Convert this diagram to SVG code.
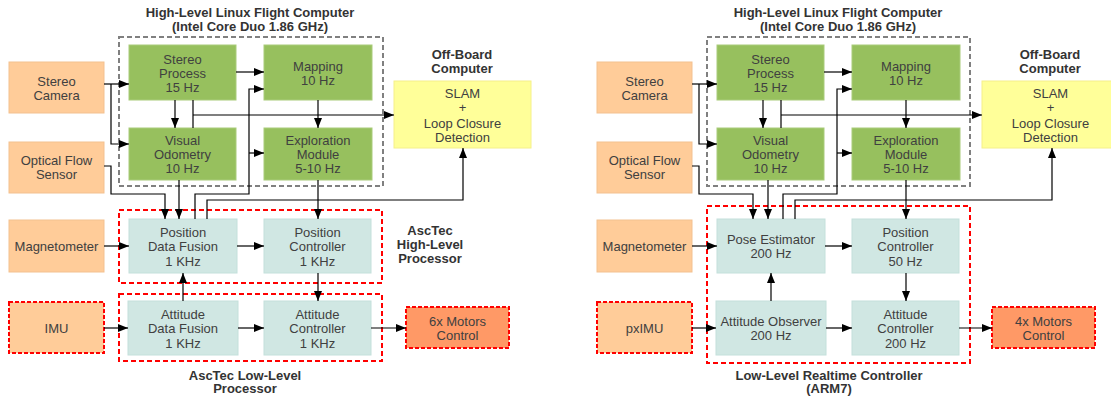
<svg xmlns="http://www.w3.org/2000/svg" width="1111" height="398" viewBox="0 0 1111 398">
<defs>
<style>
.t{font-family:"Liberation Sans",Arial,sans-serif;font-size:13px;fill:#404040;text-anchor:middle}
.h{font-family:"Liberation Sans",Arial,sans-serif;font-size:13px;font-weight:bold;fill:#333;text-anchor:middle}
.or{fill:#FFCC99;stroke:#f3c190;stroke-width:1}
.gr{fill:#97C05E;stroke:#a9cc7a;stroke-width:1}
.te{fill:#D0E7E3;stroke:#c4e0db;stroke-width:1}
.ye{fill:#FFFF99;stroke:#f5f08a;stroke-width:1}
.mo{fill:#FF9966;stroke:#FF0000;stroke-width:2;stroke-dasharray:4 2}
.ord{fill:#FFCC99;stroke:#FF0000;stroke-width:2;stroke-dasharray:4 2}
.gd{fill:none;stroke:#808080;stroke-width:2;stroke-dasharray:5 3}
.rd{fill:none;stroke:#FF0000;stroke-width:2;stroke-dasharray:5 3}
.c path{fill:none;stroke:#000;stroke-width:1.2}
.c path.a{marker-end:url(#ah)}
</style>
<marker id="ah" viewBox="0 0 10 10" refX="10" refY="5" markerWidth="10" markerHeight="10" markerUnits="userSpaceOnUse" orient="auto"><path d="M0,1 L10,5 L0,9 z" fill="#000"/></marker>
</defs>
<rect width="1111" height="398" fill="#fff"/>

<!-- group frames -->
<g id="frames">
<rect class="gd" x="119" y="37" width="264" height="149"/>
<rect class="rd" x="119" y="210" width="263" height="73"/>
<rect class="rd" x="119" y="294" width="263" height="67"/>
<rect class="gd" x="707" y="37" width="263" height="149"/>
<rect class="rd" x="707" y="206" width="263" height="157"/>
</g>

<g id="labels">
<text class="h" x="250" y="16.5">High-Level Linux Flight Computer</text>
<text class="h" x="250" y="30.5">(Intel Core Duo 1.86 GHz)</text>
<text class="h" x="462" y="58.5">Off-Board</text>
<text class="h" x="462" y="72.5">Computer</text>
<text class="h" x="430" y="234.5">AscTec</text>
<text class="h" x="430" y="248.5">High-Level</text>
<text class="h" x="430" y="262.5">Processor</text>
<text class="h" x="245" y="379.5">AscTec Low-Level</text>
<text class="h" x="245" y="393">Processor</text>
<text class="h" x="838" y="16.5">High-Level Linux Flight Computer</text>
<text class="h" x="838" y="30.5">(Intel Core Duo 1.86 GHz)</text>
<text class="h" x="1050" y="58.5">Off-Board</text>
<text class="h" x="1050" y="72.5">Computer</text>
<text class="h" x="829" y="379.5">Low-Level Realtime Controller</text>
<text class="h" x="829" y="393">(ARM7)</text>
</g>

<!-- left diagram nodes -->
<g id="L-stereo-camera"><rect class="or" x="9" y="62" width="95" height="51"/><text class="t" x="56.5" y="85.5">Stereo</text><text class="t" x="56.5" y="99.5">Camera</text></g>
<g id="L-optical-flow"><rect class="or" x="9" y="142" width="95" height="51"/><text class="t" x="56.5" y="164.5">Optical Flow</text><text class="t" x="56.5" y="178.5">Sensor</text></g>
<g id="L-stereo-process"><rect class="gr" x="129" y="45" width="107" height="55"/><text class="t" x="182.5" y="63.5">Stereo</text><text class="t" x="182.5" y="77.5">Process</text><text class="t" x="182.5" y="91.5">15 Hz</text></g>
<g id="L-visual-odometry"><rect class="gr" x="129" y="128" width="107" height="52"/><text class="t" x="182.5" y="144.5">Visual</text><text class="t" x="182.5" y="158.5">Odometry</text><text class="t" x="182.5" y="172.5">10 Hz</text></g>
<g id="L-mapping"><rect class="gr" x="264" y="45" width="108" height="55"/><text class="t" x="318" y="70.5">Mapping</text><text class="t" x="318" y="84.5">10 Hz</text></g>
<g id="L-exploration"><rect class="gr" x="264" y="128" width="108" height="52"/><text class="t" x="318" y="144.5">Exploration</text><text class="t" x="318" y="158.5">Module</text><text class="t" x="318" y="172.5">5-10 Hz</text></g>
<g id="L-slam"><rect class="ye" x="394" y="81" width="137" height="67"/><text class="t" x="462.5" y="97.5">SLAM</text><text class="t" x="462.5" y="112">+</text><text class="t" x="462.5" y="127.5">Loop Closure</text><text class="t" x="462.5" y="141.5">Detection</text></g>
<g id="L-magnetometer"><rect class="or" x="9" y="220" width="95" height="52"/><text class="t" x="56.5" y="250.5">Magnetometer</text></g>
<g id="L-position-fusion"><rect class="te" x="129" y="219" width="108" height="54"/><text class="t" x="183" y="236.5">Position</text><text class="t" x="183" y="251">Data Fusion</text><text class="t" x="183" y="265.5">1 KHz</text></g>
<g id="L-position-controller"><rect class="te" x="264" y="219" width="107" height="54"/><text class="t" x="317.5" y="236.5">Position</text><text class="t" x="317.5" y="251">Controller</text><text class="t" x="317.5" y="265.5">1 KHz</text></g>
<g id="L-imu"><rect class="ord" x="9" y="302" width="95" height="51"/><text class="t" x="56.5" y="332.5">IMU</text></g>
<g id="L-attitude-fusion"><rect class="te" x="128" y="301" width="110" height="54"/><text class="t" x="183" y="318.5">Attitude</text><text class="t" x="183" y="333">Data Fusion</text><text class="t" x="183" y="347.5">1 KHz</text></g>
<g id="L-attitude-controller"><rect class="te" x="264" y="301" width="107" height="54"/><text class="t" x="317.5" y="318.5">Attitude</text><text class="t" x="317.5" y="333">Controller</text><text class="t" x="317.5" y="347.5">1 KHz</text></g>
<g id="L-motors"><rect class="mo" x="406" y="307" width="103" height="41"/><text class="t" x="457.5" y="325.5">6x Motors</text><text class="t" x="457.5" y="339.5">Control</text></g>

<!-- right diagram nodes -->
<g id="R-stereo-camera"><rect class="or" x="597" y="62" width="95" height="51"/><text class="t" x="644.5" y="85.5">Stereo</text><text class="t" x="644.5" y="99.5">Camera</text></g>
<g id="R-optical-flow"><rect class="or" x="597" y="142" width="95" height="51"/><text class="t" x="644.5" y="164.5">Optical Flow</text><text class="t" x="644.5" y="178.5">Sensor</text></g>
<g id="R-stereo-process"><rect class="gr" x="717" y="45" width="107" height="55"/><text class="t" x="770.5" y="63.5">Stereo</text><text class="t" x="770.5" y="77.5">Process</text><text class="t" x="770.5" y="91.5">15 Hz</text></g>
<g id="R-visual-odometry"><rect class="gr" x="717" y="128" width="107" height="52"/><text class="t" x="770.5" y="144.5">Visual</text><text class="t" x="770.5" y="158.5">Odometry</text><text class="t" x="770.5" y="172.5">10 Hz</text></g>
<g id="R-mapping"><rect class="gr" x="852" y="45" width="108" height="55"/><text class="t" x="906" y="70.5">Mapping</text><text class="t" x="906" y="84.5">10 Hz</text></g>
<g id="R-exploration"><rect class="gr" x="852" y="128" width="108" height="52"/><text class="t" x="906" y="144.5">Exploration</text><text class="t" x="906" y="158.5">Module</text><text class="t" x="906" y="172.5">5-10 Hz</text></g>
<g id="R-slam"><rect class="ye" x="982" y="81" width="137" height="67"/><text class="t" x="1050.5" y="97.5">SLAM</text><text class="t" x="1050.5" y="112">+</text><text class="t" x="1050.5" y="127.5">Loop Closure</text><text class="t" x="1050.5" y="141.5">Detection</text></g>
<g id="R-magnetometer"><rect class="or" x="597" y="220" width="95" height="52"/><text class="t" x="644.5" y="250.5">Magnetometer</text></g>
<g id="R-pose-estimator"><rect class="te" x="717" y="219" width="108" height="54"/><text class="t" x="771" y="243.5">Pose Estimator</text><text class="t" x="771" y="258">200 Hz</text></g>
<g id="R-position-controller"><rect class="te" x="852" y="219" width="107" height="54"/><text class="t" x="905.5" y="236.5">Position</text><text class="t" x="905.5" y="251">Controller</text><text class="t" x="905.5" y="265.5">50 Hz</text></g>
<g id="R-pximu"><rect class="ord" x="597" y="302" width="95" height="51"/><text class="t" x="644.5" y="332.5">pxIMU</text></g>
<g id="R-attitude-observer"><rect class="te" x="716" y="301" width="110" height="54"/><text class="t" x="771" y="325.5">Attitude Observer</text><text class="t" x="771" y="340">200 Hz</text></g>
<g id="R-attitude-controller"><rect class="te" x="852" y="301" width="107" height="54"/><text class="t" x="905.5" y="318.5">Attitude</text><text class="t" x="905.5" y="333">Controller</text><text class="t" x="905.5" y="347.5">200 Hz</text></g>
<g id="R-motors"><rect class="mo" x="992" y="307" width="103" height="41"/><text class="t" x="1043.5" y="325.5">4x Motors</text><text class="t" x="1043.5" y="339.5">Control</text></g>

<!-- connectors -->
<g id="connectors" class="c">
<path class="a" d="M104,84 H129"/>
<path class="a" d="M111,84 V144 H129"/>
<path class="a" d="M236,72 H264"/>
<path class="a" d="M175,100 V128"/>
<path d="M193,100 V128"/>
<path class="a" d="M193,115 H394"/>
<path class="a" d="M318,100 V128"/>
<path class="a" d="M104,166 H111 V194 H165 V219"/>
<path class="a" d="M179,180 V219"/>
<path class="a" d="M195,219 V194 H249 V89 H264"/>
<path class="a" d="M249,153 H264"/>
<path class="a" d="M207,219 V200 H463 V148"/>
<path class="a" d="M318,180 V219"/>
<path class="a" d="M104,246 H129"/>
<path class="a" d="M237,246 H264"/>
<path class="a" d="M183,301 V273"/>
<path class="a" d="M318,273 V301"/>
<path class="a" d="M104,328 H128"/>
<path class="a" d="M238,328 H264"/>
<path class="a" d="M371,328 H406"/>

<path class="a" d="M692,84 H717"/>
<path class="a" d="M699,84 V144 H717"/>
<path class="a" d="M824,72 H852"/>
<path class="a" d="M763,100 V128"/>
<path d="M781,100 V128"/>
<path class="a" d="M781,115 H982"/>
<path class="a" d="M906,100 V128"/>
<path class="a" d="M692,166 H699 V194 H753 V219"/>
<path class="a" d="M768,180 V219"/>
<path class="a" d="M783,219 V194 H837 V89 H852"/>
<path class="a" d="M837,153 H852"/>
<path class="a" d="M795,219 V200 H1052 V148"/>
<path class="a" d="M906,180 V219"/>
<path class="a" d="M692,246 H717"/>
<path class="a" d="M825,246 H852"/>
<path class="a" d="M771,301 V273"/>
<path class="a" d="M906,273 V301"/>
<path class="a" d="M692,328 H716"/>
<path class="a" d="M826,328 H852"/>
<path class="a" d="M959,328 H992"/>
</g>
</svg>
